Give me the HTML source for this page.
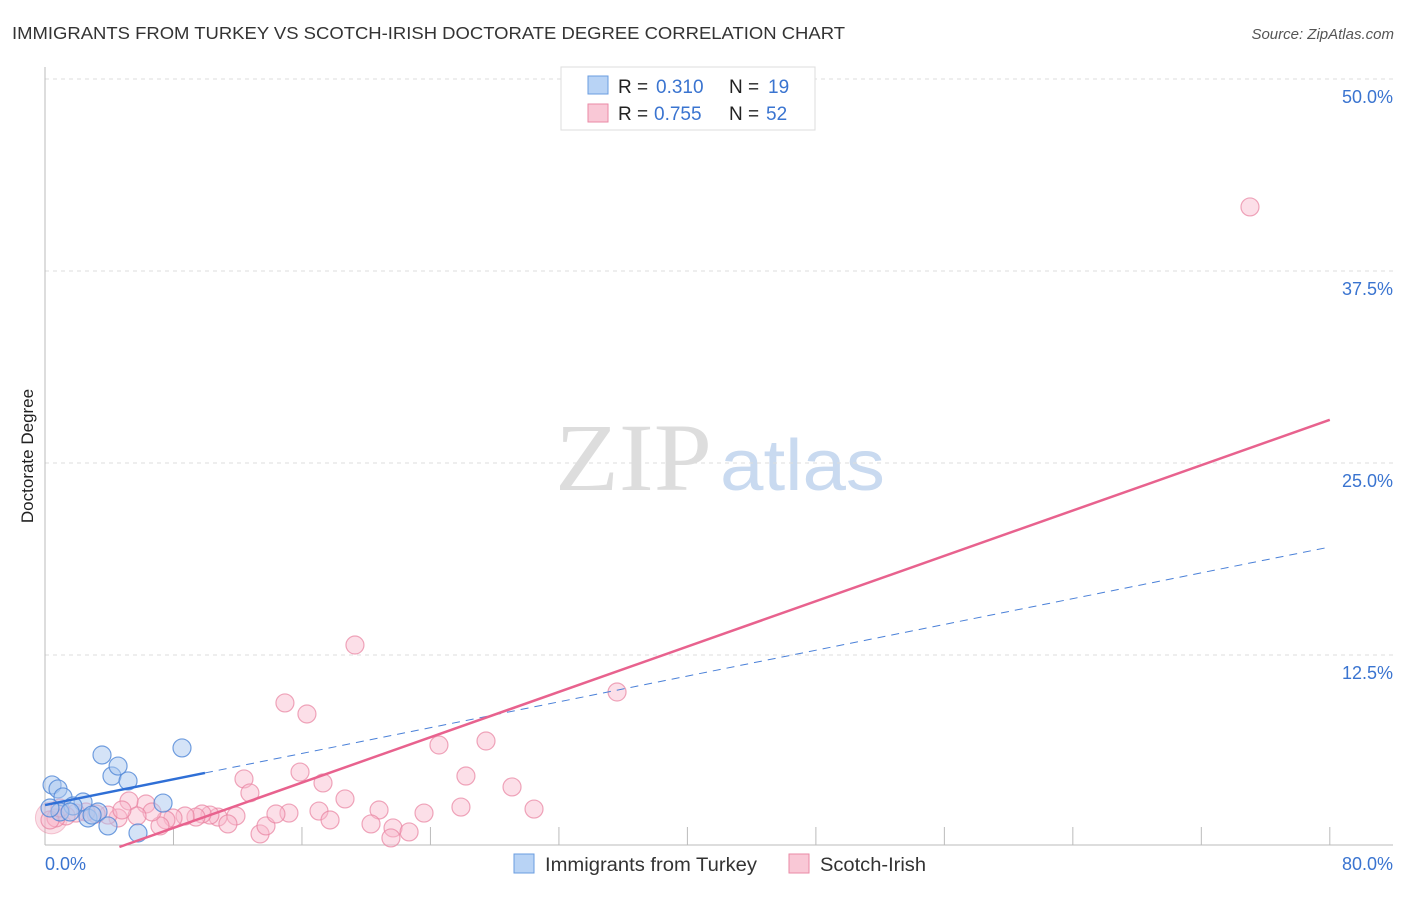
<!DOCTYPE html>
<html><head><meta charset="utf-8"><style>
body{margin:0;background:#fff;font-family:"Liberation Sans",sans-serif}
</style></head><body>
<svg width="1406" height="892" xmlns="http://www.w3.org/2000/svg" font-family="Liberation Sans, sans-serif">
<text x="12" y="39" font-size="17.5" fill="#333" textLength="833" lengthAdjust="spacingAndGlyphs">IMMIGRANTS FROM TURKEY VS SCOTCH-IRISH DOCTORATE DEGREE CORRELATION CHART</text>
<text x="1394" y="39" font-size="15" fill="#555" font-style="italic" text-anchor="end">Source: ZipAtlas.com</text>
<text x="0" y="0" transform="translate(33,456) rotate(-90)" font-size="17" fill="#222" text-anchor="middle">Doctorate Degree</text>
<g><text x="555" y="490" font-size="96" fill="#ddd" font-family="Liberation Serif, serif" textLength="157" lengthAdjust="spacingAndGlyphs">ZIP</text><text x="720" y="490" font-size="72" fill="#c9daf0" textLength="165" lengthAdjust="spacingAndGlyphs">atlas</text></g>
<g id="grid"></g><g id="axes"></g><g id="marks"></g>
<g>
<rect x="561" y="67" width="254" height="63" fill="#fff" stroke="#ddd"/>
<rect x="588" y="76" width="20" height="18" fill="#b8d3f5" stroke="#6a9de0"/>
<text x="618" y="93" font-size="19" fill="#222">R =</text><text x="656" y="93" font-size="19" fill="#3a74d0">0.310</text>
<text x="729" y="93" font-size="19" fill="#222">N =</text><text x="768" y="93" font-size="19" fill="#3a74d0">19</text>
<rect x="588" y="104" width="20" height="18" fill="#f9c8d6" stroke="#ea8aa6"/>
<text x="618" y="120" font-size="19" fill="#222">R =</text><text x="654" y="120" font-size="19" fill="#3a74d0">0.755</text>
<text x="729" y="120" font-size="19" fill="#222">N =</text><text x="766" y="120" font-size="19" fill="#3a74d0">52</text>
</g>
<g>
<rect x="514" y="854" width="20" height="19" fill="#b8d3f5" stroke="#6a9de0"/>
<text x="545" y="871" font-size="19" fill="#333" textLength="212" lengthAdjust="spacingAndGlyphs">Immigrants from Turkey</text>
<rect x="789" y="854" width="20" height="19" fill="#f9c8d6" stroke="#ea8aa6"/>
<text x="820" y="871" font-size="19" fill="#333" textLength="106" lengthAdjust="spacingAndGlyphs">Scotch-Irish</text>
</g>
</svg>
<script>
const yTicks=[12.5,25,37.5,50];
const yTickLabels=["12.5%","25.0%","37.5%","50.0%"];
const xTicks=[8,16,24,32,40,48,56,64,72,80];
const blueX=[0.44,0.81,1.12,3.55,4.17,4.55,5.17,8.53,7.35,2.37,1.74,2.68,3.30,3.92,5.79,0.93,1.56,0.31,2.93];
const blueY=[4.04,3.78,3.26,5.99,4.62,5.27,4.30,6.45,2.86,2.93,2.67,1.89,2.28,1.37,0.91,2.28,2.28,2.54,2.08];
const pinkX=[75.03,35.62,19.30,14.94,16.31,24.53,27.46,26.21,15.88,17.31,12.39,12.76,18.68,25.90,29.08,30.45,23.60,20.80,20.30,21.67,22.67,21.54,13.39,13.76,15.19,14.38,17.06,17.75,11.89,10.77,10.27,9.78,9.40,8.72,7.97,7.53,7.16,6.29,5.23,6.66,5.73,4.55,3.92,3.18,2.55,1.93,1.31,0.68,0.31,0.93,11.39,4.79];
const pinkY=[41.67,10.09,13.15,9.38,8.66,6.64,6.90,4.62,4.88,4.17,4.43,3.52,3.13,2.60,3.91,2.47,2.21,2.41,1.50,1.24,0.98,0.59,0.85,1.37,2.21,2.15,2.34,1.76,2.02,1.95,2.08,2.15,1.95,2.02,1.89,1.76,1.37,2.80,3.00,2.28,2.02,1.89,2.08,2.15,2.28,2.21,2.02,1.89,1.76,2.54,1.50,2.41];
const blueTrend=[2.73,0.21];
const pinkTrend=[-1.71,0.369];
const blueSolidEnd=9.96;
const NS="http://www.w3.org/2000/svg";
const sx=v=>45+v*16.06, sy=v=>847-v*15.36;
function mk(t,a,p){const e=document.createElementNS(NS,t);for(const k in a)e.setAttribute(k,a[k]);p.appendChild(e);return e;}
const grid=document.getElementById('grid'),axes=document.getElementById('axes'),marks=document.getElementById('marks');
yTicks.forEach((v,i)=>{
 const l=mk('line',{x1:45,x2:1393,y1:sy(v),y2:sy(v),stroke:'#ddd','stroke-dasharray':'4,4'},grid);
 
 
 const t=mk('text',{x:1393,y:sy(v)+24,'font-size':18,fill:'#3a74d0','text-anchor':'end'},axes);
 t.textContent=yTickLabels[i];
 
 
});
const ya=mk('line',{x1:45,x2:45,y1:67,y2:845,stroke:'#bbb'},axes);


const xa=mk('line',{x1:45,x2:1393,y1:845,y2:845,stroke:'#bbb'},axes);


xTicks.forEach(v=>{const l=mk('line',{x1:sx(v),x2:sx(v),y1:827,y2:845,stroke:'#bbb'},axes);
 
 });
let t0=mk('text',{x:45,y:870,'font-size':18,fill:'#3a74d0'},axes);t0.textContent='0.0%';


let t1=mk('text',{x:1393,y:870,'font-size':18,fill:'#3a74d0','text-anchor':'end'},axes);t1.textContent='80.0%';


const bc=mk('circle',{cx:sx(0.4),cy:sy(1.9),r:16,fill:'rgba(240,150,175,0.3)',stroke:'rgba(230,120,150,0.4)'},marks);


pinkX.forEach((x,i)=>{const c=mk('circle',{cx:sx(x),cy:sy(pinkY[i]),r:9,fill:'rgba(248,185,203,0.45)',stroke:'rgba(232,130,160,0.7)','stroke-width':1.2},marks);
 
 });
blueX.forEach((x,i)=>{const c=mk('circle',{cx:sx(x),cy:sy(blueY[i]),r:9,fill:'rgba(170,200,240,0.5)',stroke:'rgba(80,135,215,0.8)','stroke-width':1.2},marks);
 
 });
const bf=x=>blueTrend[0]+blueTrend[1]*x, pf=x=>pinkTrend[0]+pinkTrend[1]*x;
const bs=mk('line',{x1:sx(0),y1:sy(bf(0)),x2:sx(blueSolidEnd),y2:sy(bf(blueSolidEnd)),stroke:'#2f6fd6','stroke-width':2.5},marks);


const bd=mk('line',{x1:sx(blueSolidEnd),y1:sy(bf(blueSolidEnd)),x2:sx(80),y2:sy(bf(80)),stroke:'#4a80d8','stroke-width':1,'stroke-dasharray':'8,6'},marks);


const px0=-pinkTrend[0]/pinkTrend[1];
const pl=mk('line',{x1:sx(px0),y1:sy(0),x2:sx(80),y2:sy(pf(80)),stroke:'#e8628e','stroke-width':2.5},marks);


</script>
</body></html>
